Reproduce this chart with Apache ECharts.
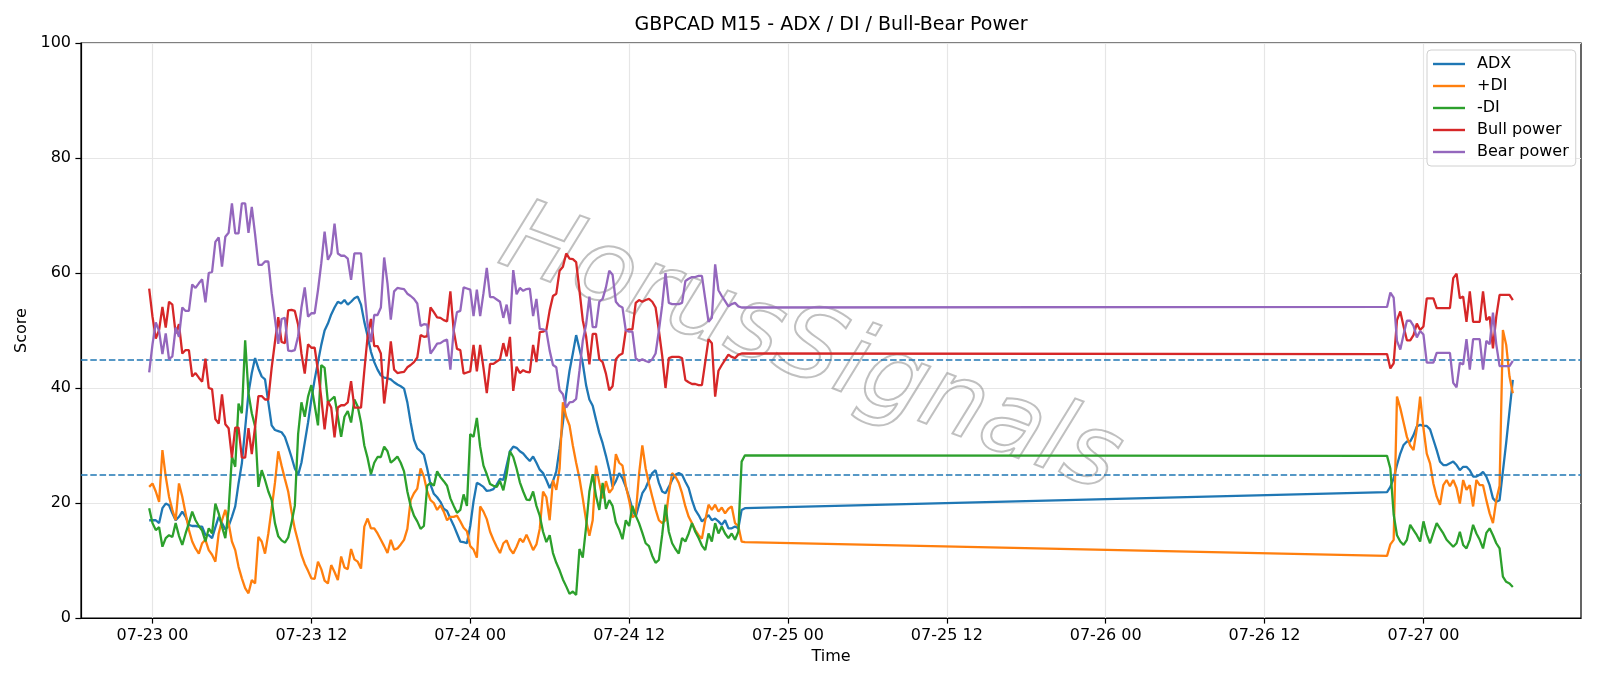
<!DOCTYPE html>
<html>
<head>
<meta charset="utf-8">
<script src="https://cdn.jsdelivr.net/npm/echarts@6/dist/echarts.min.js"></script>
<style>
html,body{margin:0;padding:0;background:#ffffff;}
#chart{width:1600px;height:686px;}
</style>
</head>
<body>
<div id="chart"></div>
<script>
// ---- time base (hours relative to 07-23 00:00), 15-minute bars ----
const preStartHour = -0.25;   // 07-22 23:45
const postStartHour = 93.25;  // 07-26 21:15
const stepHour = 0.25;

// ---- tick labels ----
const tickHours = [0, 12, 24, 36, 48, 60, 72, 84, 96];
const tickLabels = ['07-23 00', '07-23 12', '07-24 00', '07-24 12', '07-25 00', '07-25 12', '07-26 00', '07-26 12', '07-27 00'];

// ---- series names ----
const seriesNames = ['ADX', '+DI', '-DI', 'Bull power', 'Bear power'];

// ---- ADX ----
const adxPre = [17.0,17.0,17.0,16.5,19.1,19.9,19.6,18.2,17.0,17.6,
18.5,17.6,16.2,16.0,16.0,15.9,15.9,14.4,14.4,13.9,
15.8,17.6,16.5,15.4,16.0,17.6,19.4,23.4,26.9,33.0,
39.1,42.6,45.2,43.4,42.0,41.5,37.5,33.5,32.7,32.5,
32.3,31.5,29.8,28.0,26.0,24.9,27.0,30.5,34.0,38.0,
41.5,44.5,47.5,50.0,51.2,52.8,54.0,55.0,54.7,55.3,
54.5,55.0,55.6,55.9,54.5,51.5,49.0,46.3,44.5,43.2,
42.2,41.8,41.7,41.5,41.0,40.6,40.3,39.9,37.5,34.0,
31.0,29.5,29.0,28.4,26.0,23.2,21.6,21.0,20.2,19.0,
18.6,17.3,16.1,14.7,13.3,13.2,13.0,16.0,20.3,23.5,
23.2,22.8,22.1,22.2,22.4,23.2,24.2,24.0,26.5,29.0,
29.8,29.6,29.0,28.6,27.9,27.3,28.1,27.0,25.8,25.2,
24.0,22.6,23.8,25.5,29.5,34.0,39.0,43.0,46.0,49.2,
46.8,44.3,40.5,38.0,36.9,34.5,32.2,30.4,28.2,25.8,
22.8,23.8,25.2,24.3,22.8,21.0,19.0,17.6,19.7,21.7,
22.6,24.0,25.2,25.7,23.5,22.0,21.7,22.8,24.0,24.9,
25.2,24.9,23.7,22.6,20.5,18.8,17.9,16.8,17.3,17.9,
17.0,17.3,16.8,16.2,17.0,15.6,15.6,15.9,15.6,18.8,
19.1];
const adxPost = [21.9,22.8,24.3,26.6,28.6,30.1,30.7,30.7,31.8,33.3,
33.6,33.4,33.4,32.8,31.0,29.2,27.2,26.6,26.6,26.9,
27.2,26.6,25.7,26.3,26.3,25.7,24.6,24.6,24.9,25.4,
24.6,23.1,20.8,20.2,20.5,25.5,30.5,36.0,41.4];

// ---- +DI ----
const plusDiPre = [22.8,23.4,22.0,20.2,29.2,24.6,21.1,18.8,17.0,23.4,
21.1,18.2,15.3,13.3,12.1,11.2,13.0,13.6,11.8,11.0,
9.8,14.7,17.0,18.8,16.5,13.3,11.8,8.9,6.9,5.2,
4.3,6.6,6.0,14.1,13.3,11.2,14.7,19.0,23.5,29.0,
26.5,24.2,22.0,18.5,15.5,13.3,11.0,9.4,8.2,6.9,
6.8,9.8,8.5,6.5,6.0,9.2,8.0,6.6,10.7,8.8,
8.5,12.0,10.2,9.8,8.6,15.9,17.3,15.6,15.6,14.7,
13.6,12.5,11.3,13.6,11.9,12.1,12.8,13.6,15.5,20.5,
21.7,22.5,26.0,24.6,22.0,20.5,20.0,18.8,19.6,18.5,
17.0,17.6,17.6,17.8,16.8,15.7,15.1,12.5,11.9,10.5,
19.4,18.5,17.2,15.0,13.6,12.4,11.3,13.0,13.5,12.0,
11.2,12.4,13.8,13.2,14.5,13.2,11.8,12.8,15.5,22.0,
21.0,17.0,24.0,22.3,26.0,37.5,35.0,33.5,30.0,27.0,
24.3,20.8,17.0,14.3,17.0,26.5,23.5,20.8,23.8,21.8,
22.5,28.5,27.0,26.5,23.0,20.5,17.5,18.0,25.0,30.0,
26.0,23.4,21.1,18.9,17.0,16.5,17.0,21.7,25.2,24.6,
23.5,21.7,19.4,17.6,16.5,15.3,14.4,13.8,17.0,19.7,
18.8,19.7,18.5,19.2,18.2,19.0,19.4,16.5,16.0,13.3,
13.2];
const plusDiPost = [10.8,12.8,13.6,38.5,36.5,34.0,31.5,30.0,29.2,33.0,
38.5,33.0,28.6,26.9,23.4,21.1,19.7,23.1,24.0,22.9,
24.0,22.6,19.9,24.0,22.3,23.1,19.4,24.0,23.1,23.1,
20.5,18.2,16.5,20.5,23.0,50.1,47.5,42.0,39.1];

// ---- -DI ----
const minusDiPre = [19.1,16.5,15.3,15.8,12.4,13.9,14.4,14.1,16.5,14.3,
12.7,14.7,16.5,18.5,17.0,16.0,15.2,13.3,15.6,14.7,
19.9,18.2,15.9,13.9,18.8,28.1,26.3,37.3,35.6,48.3,
39.1,35.6,33.3,22.8,25.7,24.0,22.0,20.5,16.5,14.2,
13.5,13.1,14.0,16.5,19.5,32.0,37.5,35.0,38.5,40.5,
37.0,33.5,44.0,43.5,37.5,38.0,38.5,35.0,31.5,35.0,
36.0,34.0,38.0,36.8,34.0,30.0,27.8,25.0,27.0,28.0,
28.0,29.8,29.0,27.0,27.5,28.1,27.0,25.5,22.0,19.5,
17.8,16.8,15.5,16.0,23.0,23.5,23.0,25.5,24.5,23.8,
23.0,20.8,19.5,18.3,18.8,21.5,19.5,32.0,31.5,34.8,
29.8,26.5,25.0,23.3,23.0,22.8,23.8,22.2,25.0,29.0,
28.0,26.0,23.6,22.0,20.6,20.5,22.0,19.5,17.8,15.0,
13.2,14.4,11.3,9.6,8.3,6.7,5.5,4.2,4.6,4.0,
12.0,10.5,15.8,22.0,25.0,21.2,18.8,23.5,19.0,20.5,
19.5,16.6,15.4,13.7,17.0,16.0,19.5,17.8,16.5,14.8,
13.0,12.5,10.8,9.6,10.1,14.5,19.7,15.0,13.0,12.0,
11.2,13.9,13.3,14.7,16.5,15.0,13.9,12.6,11.8,14.7,
13.3,16.5,14.7,15.9,14.7,13.9,14.7,13.6,15.0,27.2,
28.3];
const minusDiPost = [28.2,26.0,18.0,14.4,13.3,12.7,13.6,16.2,15.3,14.4,
13.3,16.8,14.5,13.0,14.8,16.5,15.6,14.7,13.6,13.0,
12.4,13.0,15.0,12.7,12.1,13.6,16.2,14.7,13.6,12.1,
14.8,15.6,14.4,13.0,12.1,7.2,6.3,6.0,5.4];

// ---- Bull power ----
const bullPre = [57.3,52.4,48.6,50.1,54.1,50.5,55.0,54.5,49.5,51.1,
46.0,46.6,46.6,42.0,42.6,41.8,41.1,45.1,40.0,39.8,
34.6,33.8,38.9,33.7,33.0,27.9,33.1,33.1,27.9,27.9,
33.0,28.5,33.3,38.6,38.6,38.0,38.0,43.5,48.0,52.3,
48.0,47.8,53.5,53.6,53.4,51.0,46.0,42.5,47.6,47.0,
47.0,43.0,38.3,32.8,37.7,36.6,31.4,36.6,37.0,37.0,
37.5,41.2,36.6,36.6,36.6,43.0,49.0,52.0,47.3,47.3,
46.0,37.3,41.8,48.1,43.2,42.6,42.7,42.8,43.6,44.0,
44.5,45.3,49.2,48.9,49.0,54.0,53.2,52.3,52.2,51.8,
51.6,56.8,50.0,46.8,46.6,42.5,42.7,42.9,47.5,42.9,
47.5,43.5,39.1,44.2,44.2,44.6,45.0,47.8,45.5,48.9,
39.5,43.7,42.6,43.1,42.8,42.7,47.5,44.5,49.7,49.8,
50.1,53.5,56.0,56.4,60.4,61.1,63.4,62.5,62.4,61.9,
57.0,51.8,49.0,44.1,49.4,49.4,45.0,44.5,42.5,39.6,
40.3,45.0,45.7,46.0,50.0,50.2,50.2,54.8,55.3,55.0,
55.3,55.5,55.0,54.0,50.0,45.6,40.0,45.2,45.4,45.4,
45.4,45.2,41.4,41.0,40.7,40.7,40.5,40.5,44.5,48.5,
47.8,38.5,43.0,44.0,44.9,45.8,45.4,45.2,45.8,46.0,
46.0];
const bullPost = [45.9,43.4,44.3,51.8,53.3,50.7,48.3,48.3,49.2,51.2,
50.1,50.7,55.6,55.6,55.6,53.9,53.9,53.9,53.9,53.9,
59.1,59.9,55.6,55.9,51.5,56.8,51.5,51.5,51.5,56.8,
51.8,52.4,46.9,52.4,56.2,56.2,56.2,56.2,55.3];

// ---- Bear power ----
const bearPre = [42.7,47.6,51.4,49.9,45.9,49.5,45.0,45.5,50.5,48.9,
54.0,53.4,53.4,58.0,57.4,58.2,58.9,54.9,60.0,60.2,
65.4,66.2,61.1,66.3,67.0,72.1,66.9,66.9,72.1,72.1,
67.0,71.5,66.7,61.4,61.4,62.0,62.0,56.5,52.0,47.7,
52.0,52.2,46.5,46.4,46.6,49.0,54.0,57.5,52.4,53.0,
53.0,57.0,61.7,67.2,62.3,63.4,68.6,63.4,63.0,63.0,
62.5,58.8,63.4,63.4,63.4,57.0,51.0,48.0,52.7,52.7,
54.0,62.7,58.2,51.9,56.8,57.4,57.3,57.2,56.4,56.0,
55.5,54.7,50.8,51.1,51.0,46.0,46.8,47.7,47.8,48.2,
48.4,43.2,50.0,53.2,53.4,57.5,57.3,57.1,52.5,57.1,
52.5,56.5,60.9,55.8,55.8,55.4,55.0,52.2,54.5,51.1,
60.5,56.3,57.4,56.9,57.2,57.3,52.5,55.5,50.3,50.2,
49.9,46.5,44.0,43.6,39.6,38.9,36.6,37.5,37.6,38.1,
43.0,48.2,51.0,55.9,50.6,50.6,55.0,55.5,57.5,60.4,
59.7,55.0,54.3,54.0,50.0,49.8,49.8,45.2,44.7,45.0,
44.7,44.5,45.0,46.0,50.0,54.4,60.0,54.8,54.6,54.6,
54.6,54.8,58.6,59.0,59.3,59.3,59.5,59.5,55.5,51.5,
52.2,61.5,57.0,56.0,55.1,54.2,54.6,54.8,54.2,54.0,
54.0];
const bearPost = [54.1,56.6,55.7,48.2,46.7,49.3,51.7,51.7,50.8,48.8,
49.9,49.3,44.4,44.4,44.4,46.1,46.1,46.1,46.1,46.1,
40.9,40.1,44.4,44.1,48.5,43.2,48.5,48.5,48.5,43.2,
48.2,47.6,53.1,47.6,43.8,43.8,43.8,43.8,44.7];

// ---- reference levels ----
const refLevels = [45, 25];

// ---- build ----
const hoursPre = bullPre.map((_, i) => preStartHour + i * stepHour);
const hoursPost = bullPost.map((_, j) => postStartHour + j * stepHour);
const firstHour = hoursPre[0];
const lastHour = hoursPost[hoursPost.length - 1];
const span = lastHour - firstHour;
const xMin = firstHour - 0.05 * span;
const xMax = lastHour + 0.05 * span;

function pairs(pre, post) {
  return pre.map((v, i) => [hoursPre[i], v]).concat(post.map((v, j) => [hoursPost[j], v]));
}

const colors = ['#1f77b4', '#ff7f0e', '#2ca02c', '#d62728', '#9467bd'];
const seriesData = [
  pairs(adxPre, adxPost),
  pairs(plusDiPre, plusDiPost),
  pairs(minusDiPre, minusDiPost),
  pairs(bullPre, bullPost),
  pairs(bearPre, bearPost)
];

const FONT = 'DejaVu Sans';

const series = seriesNames.map((name, k) => ({
  name: name,
  type: 'line',
  data: seriesData[k],
  showSymbol: false,
  symbol: 'none',
  color: colors[k],
  lineStyle: { width: 2.3, color: colors[k] },
  z: 3 + k,
  animation: false
}));

series[4].markLine = {
  silent: true,
  symbol: ['none', 'none'],
  label: { show: false },
  animation: false,
  lineStyle: { color: '#1f77b4', type: [6.5, 2.8], width: 1.5 },
  data: refLevels.map(v => ({ yAxis: v }))
};

const chart = echarts.init(document.getElementById('chart'), null, { renderer: 'canvas' });

chart.setOption({
  backgroundColor: '#ffffff',
  animation: false,
  color: colors,
  title: {
    text: 'GBPCAD M15 - ADX / DI / Bull-Bear Power',
    left: 831,
    textAlign: 'center',
    top: 16,
    padding: 0,
    textStyle: { fontFamily: FONT, fontSize: 19, fontWeight: 'normal', color: '#000' }
  },
  grid: {
    left: 81, right: 19, top: 43, bottom: 68,
    show: true, borderColor: '#000', borderWidth: 1.2, backgroundColor: 'transparent'
  },
  legend: {
    orient: 'vertical',
    left: 1427,
    top: 50,
    padding: [4, 7, 4, 6],
    itemWidth: 32,
    itemHeight: 2.4,
    itemGap: 2,
    icon: 'rect',
    backgroundColor: 'rgba(255,255,255,0.85)',
    borderColor: '#d0d0d0',
    borderWidth: 1,
    borderRadius: 4,
    textStyle: { fontFamily: FONT, fontSize: 16, color: '#000', lineHeight: 20, padding: [0, 0, 0, 7] },
    data: seriesNames
  },
  xAxis: {
    type: 'value',
    min: xMin,
    max: xMax,
    name: 'Time',
    nameLocation: 'middle',
    nameGap: 30,
    nameTextStyle: { fontFamily: FONT, fontSize: 16, color: '#000' },
    axisLine: { show: true, onZero: false, lineStyle: { color: '#000', width: 1.2 } },
    axisTick: { show: true, inside: false, length: 5.6, customValues: tickHours, lineStyle: { color: '#000', width: 1.2 } },
    axisLabel: {
      customValues: tickHours,
      margin: 10,
      fontFamily: FONT, fontSize: 16, color: '#000',
      formatter: function (v) {
        const idx = tickHours.indexOf(Math.round(v));
        return idx >= 0 ? tickLabels[idx] : '';
      }
    },
    splitLine: { show: true, lineStyle: { color: '#e6e6e6', width: 1.2 } }
  },
  yAxis: {
    type: 'value',
    min: 0,
    max: 100,
    interval: 20,
    name: 'Score',
    nameLocation: 'middle',
    nameGap: 48,
    nameTextStyle: { fontFamily: FONT, fontSize: 16, color: '#000' },
    axisLine: { show: true, onZero: false, lineStyle: { color: '#000', width: 1.2 } },
    axisTick: { show: true, inside: false, length: 5.6, lineStyle: { color: '#000', width: 1.2 } },
    axisLabel: { margin: 10, fontFamily: FONT, fontSize: 16, color: '#000' },
    splitLine: { show: true, lineStyle: { color: '#e6e6e6', width: 1.2 } }
  },
  graphic: [{
    type: 'text',
    x: 810,
    y: 352,
    rotation: -0.36,
    z: 1,
    silent: true,
    style: {
      text: 'HorusSignals',
      font: 'italic 100px "DejaVu Sans"',
      textAlign: 'center',
      textVerticalAlign: 'middle',
      fill: 'rgba(255,255,255,0.0)',
      stroke: 'rgba(140,140,140,0.55)',
      lineWidth: 2,
      shadowColor: 'rgba(0,0,0,0.25)',
      shadowBlur: 2,
      shadowOffsetX: 3,
      shadowOffsetY: 3
    }
  }],
  series: series
});
</script>
</body>
</html>
